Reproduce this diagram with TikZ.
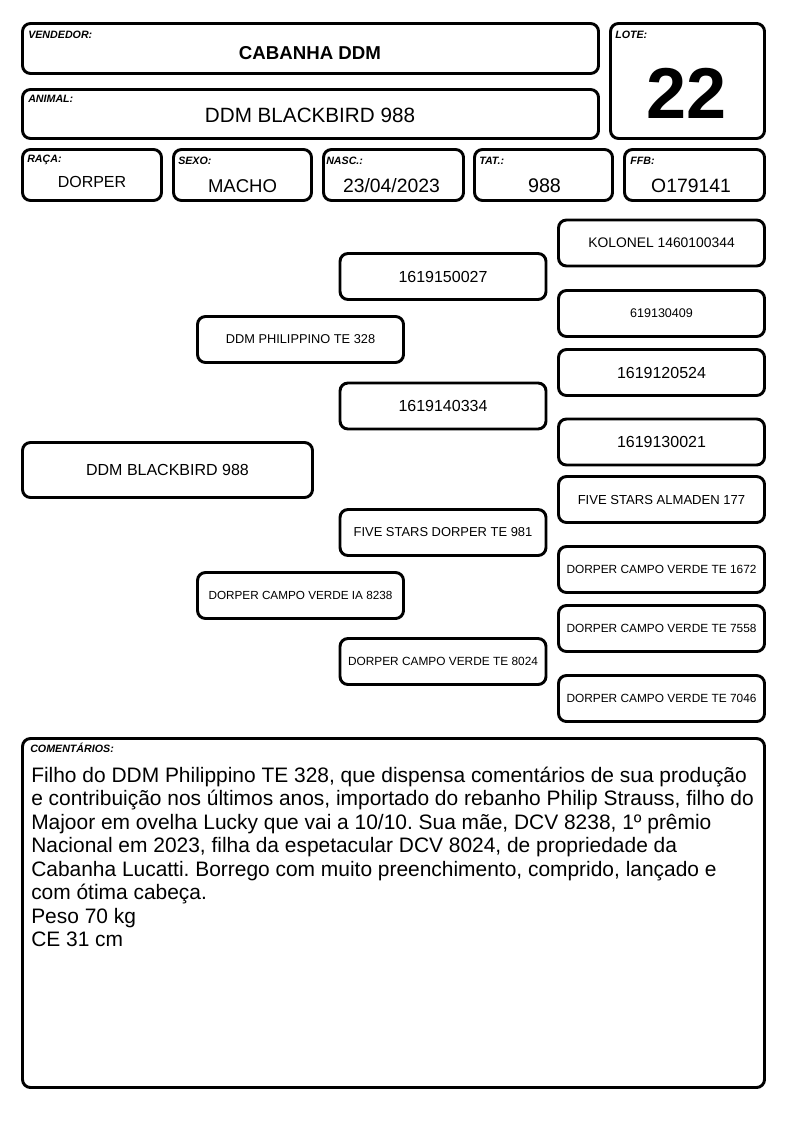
\documentclass[tikz,border=0pt]{standalone}
\usepackage{fontspec}
\setmainfont{Liberation Sans}
\frenchspacing

\newlength{\pxu}
\setlength{\pxu}{0.75pt}
\newcommand{\fsz}[1]{\fontsize{#1pt}{#1pt}\selectfont}

\begin{document}
\begin{tikzpicture}[x=0.75pt,y=-0.75pt,
  box/.style={draw, line width=2.2pt, rounded corners=6pt, inner sep=0pt},
  lbl/.style={font=\fsz{8}\bfseries\itshape, anchor=base west, inner sep=0pt},
  val/.style={anchor=base, inner sep=0pt},
  ped/.style={box, minimum width=206\pxu, minimum height=46\pxu}]
\useasboundingbox (0,0) rectangle (794,1123);

% header
\node[box, minimum width=576\pxu, minimum height=50\pxu] (vend) at (310.5,48.5) {};
\node[lbl] (vendlbl) at (28,39) {VENDEDOR:};
\node[val, font=\fsz{14}\bfseries] (vendval) at (310,60) {CABANHA DDM};

\node[box, minimum width=576\pxu, minimum height=49\pxu] (anim) at (310.5,114) {};
\node[lbl] (animlbl) at (28,103) {ANIMAL:};
\node[val, font=\fsz{15.5}] (animval) at (310,123) {DDM BLACKBIRD 988};

\node[box, minimum width=154\pxu, minimum height=115\pxu] (lote) at (687.5,81) {};
\node[lbl] (lotelbl) at (615,39) {LOTE:};
\node[val, font=\fsz{54}\bfseries] (loteval) at (687,119) {22};

% data row
\node[box, minimum width=139\pxu, minimum height=51\pxu] (raca) at (92,175) {};
\node[lbl] (racalbl) at (27,163) {RAÇA:};
\node[val, font=\fsz{12}] (racaval) at (92,188) {DORPER};

\node[box, minimum width=138\pxu, minimum height=51\pxu] (sexo) at (242.5,175) {};
\node[lbl] (sexolbl) at (178,165) {SEXO:};
\node[val, font=\fsz{13.9}] (sexoval) at (242.5,193) {MACHO};

\node[box, minimum width=140\pxu, minimum height=51\pxu] (nasc) at (393.5,175) {};
\node[lbl] (nasclbl) at (326,165) {NASC.:};
\node[val, font=\fsz{14.5}] (nascval) at (391.5,193) {23/04/2023};

\node[box, minimum width=138\pxu, minimum height=51\pxu] (tat) at (543.5,175) {};
\node[lbl] (tatlbl) at (479,165) {TAT.:};
\node[val, font=\fsz{14.8}] (tatval) at (544.5,193) {988};

\node[box, minimum width=140\pxu, minimum height=51\pxu] (ffb) at (694.5,175) {};
\node[lbl] (ffblbl) at (630,165) {FFB:};
\node[val, font=\fsz{14.5}] (ffbval) at (691,193) {O179141};

% pedigree
\node[box, minimum width=290\pxu, minimum height=55\pxu, font=\fsz{12}] (p0) at (167.5,470) {DDM BLACKBIRD 988};

\node[ped, font=\fsz{9.6}] (pai) at (300.5,339.5) {DDM PHILIPPINO TE 328};
\node[ped, font=\fsz{8.8}] (mae) at (300.5,595.5) {DORPER CAMPO VERDE IA 8238};

\node[ped, font=\fsz{12}] (avo1) at (443,276.5) {1619150027};
\node[ped, font=\fsz{12}] (avo2) at (443,406) {1619140334};
\node[ped, font=\fsz{9.7}] (avo3) at (443,532.5) {FIVE STARS DORPER TE 981};
\node[ped, font=\fsz{8.9}] (avo4) at (443,661.5) {DORPER CAMPO VERDE TE 8024};

\node[ped, font=\fsz{10.4}] (bis1) at (661.5,243) {KOLONEL 1460100344};
\node[ped, font=\fsz{9.4}] (bis2) at (661.5,313.5) {619130409};
\node[ped, font=\fsz{12}] (bis3) at (661.5,372.5) {1619120524};
\node[ped, font=\fsz{12}] (bis4) at (661.5,442) {1619130021};
\node[ped, font=\fsz{9.8}] (bis5) at (661.5,499.5) {FIVE STARS ALMADEN 177};
\node[ped, font=\fsz{8.9}] (bis6) at (661.5,569.5) {DORPER CAMPO VERDE TE 1672};
\node[ped, font=\fsz{8.9}] (bis7) at (661.5,628.5) {DORPER CAMPO VERDE TE 7558};
\node[ped, font=\fsz{8.9}] (bis8) at (661.5,698.5) {DORPER CAMPO VERDE TE 7046};

% comments
\node[box, minimum width=742\pxu, minimum height=349\pxu] (com) at (393.5,913) {};
\node[lbl] (comlbl) at (30,752) {COMENTÁRIOS:};
\foreach \ln [count=\i from 0] in {%
  {Filho do DDM Philippino TE 328, que dispensa comentários de sua produção},
  {e contribuição nos últimos anos, importado do rebanho Philip Strauss, filho do},
  {Majoor em ovelha Lucky que vai a 10/10. Sua mãe, DCV 8238, 1º prêmio},
  {Nacional em 2023, filha da espetacular DCV 8024, de propriedade da},
  {Cabanha Lucatti. Borrego com muito preenchimento, comprido, lançado e},
  {com ótima cabeça.},
  {Peso 70 kg},
  {CE 31 cm}}
  \node[anchor=base west, inner sep=0pt, font=\fsz{15.7}] (c\i) at (31,{782+23.5*\i}) {\ln};
\end{tikzpicture}
\end{document}
